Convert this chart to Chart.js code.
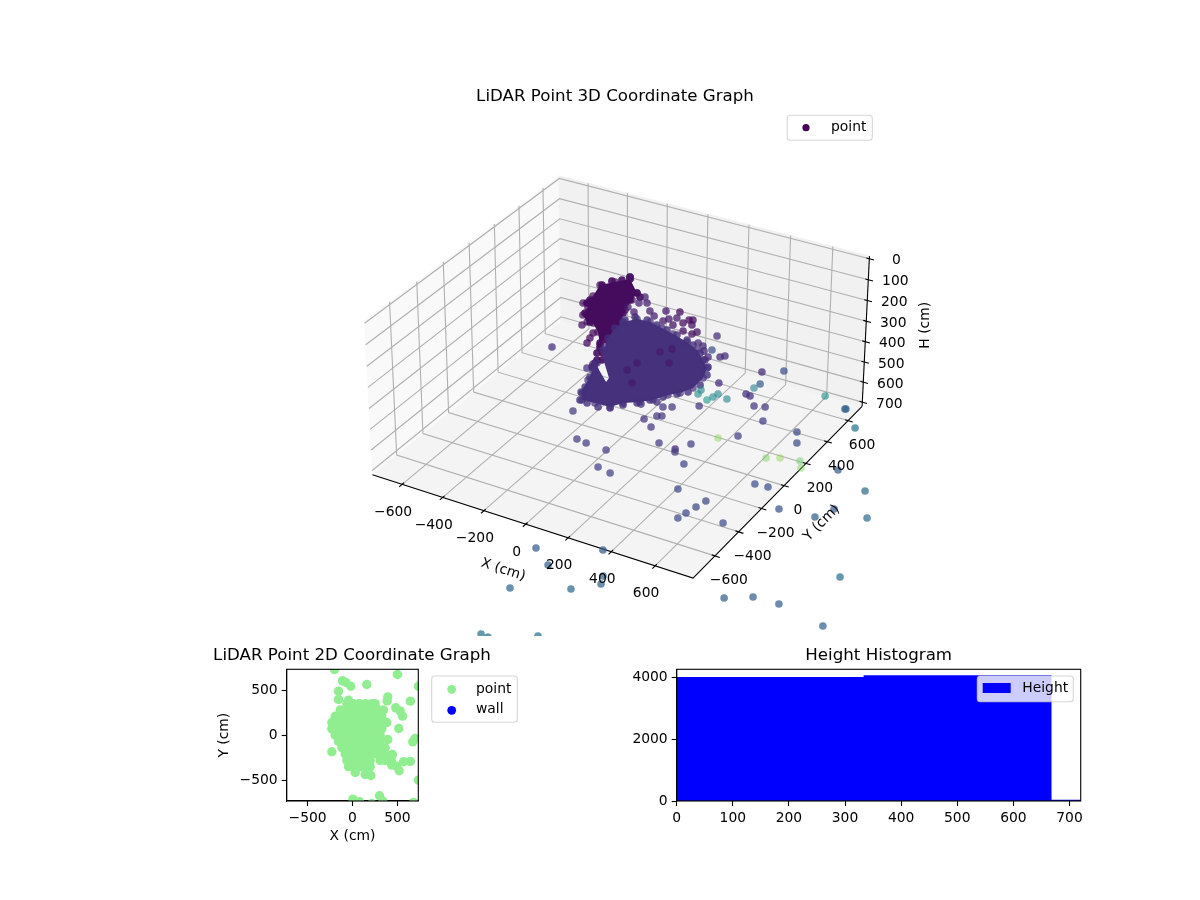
<!DOCTYPE html>
<html><head><meta charset="utf-8">
<script src="https://cdn.jsdelivr.net/npm/chart.js@4"></script>
<style>html,body{margin:0;background:#fff;overflow:hidden}canvas{position:absolute;left:0;top:0}</style></head>
<body>
<canvas id="c3" width="1200" height="900"></canvas>
<canvas id="c2" width="1200" height="900"></canvas>
<canvas id="ch" width="1200" height="900"></canvas>
<script>
const xTicks=[-600,-400,-200,0,200,400,600], yTicks=[-600,-400,-200,0,200,400,600], hTicks=[0,100,200,300,400,500,600,700];
const xLim=[-748,771], yLim=[-780,738], hLim=[721,-13];
const colorMaxH=3337;
// dense main cluster outline (cm)
const mainH=467;
const mainX=[-270,-231,-168,-97,-29,57,128,192,239,265,268,241,205,171,132,75,45,-26,-85,-122,-147,-172,-187,-162,-73,-79,-165,-221,-227,-255,-274];
const mainY=[475,529,534,513,490,459,420,357,306,223,129,66,26,-41,-82,-124,-179,-182,-188,-134,-34,49,109,74,-10,25,131,218,245,319,411];
const mainRimX=[-92,-54,2,49,83,126,160,195,234,266,282,267,239,199,152,92,49,-10,-69,-129,-188,-247,-272,-114,-128,-153,-164];
const mainRimY=[-193,-199,-204,-186,-138,-95,-47,2,52,90,166,254,315,361,403,449,475,491,508,525,543,540,495,-139,-90,-8,53];
// dense upper cluster outline (cm)
const upperH=100;
const upperX=[-102,-15,-3,15,61,87,63,74,12,-44,-69,-114,-131,-166,-161,-184,-143];
const upperY=[242,149,86,-3,-124,-234,-266,-308,-219,-164,-169,-127,-58,-38,35,132,187];
const upperRimX=[-177,-159,-127,-111,-15,13,-10,-154,-152,-115,-59,-105,21,62,78,77,65,86,96,125,130,136,142,117];
const upperRimY=[137,188,217,257,149,125,82,-2,-30,-108,-163,-43,-30,-142,-210,-258,-293,-329,-370,-419,-443,-477,-409,-358];
// individual points (cm)
const ptX=[-427,-152,-205,-200,-149,-115,-145,-124,-123,-203,
-69,-32,34,220,79,104,66,285,299,233,
162,273,266,310,320,159,189,214,142,-90,
253,297,311,356,-523,-597,-689,-519,-472,-372,
319,241,208,240,222,188,228,184,215,147,
140,210,261,142,191,493,279,86,-307,474,
496,518,562,-115,489,485,426,547,-1150,513,
374,603,644,-749,-790,-505,-573,756,619,677,
769,287,492,347,-39,10,93,115,181,386,
405,563,550,536,489,666,229,746,804,879,
872,941,755,853,967,1159,-56,13,213,235,
-113,109,-158,-122,53,-1,9,20,-166];
const ptY=[135,-151,55,97,454,412,395,315,261,419,
356,327,312,95,257,281,229,55,63,99,
142,103,40,36,61,371,359,323,575,968,
287,312,330,194,1678,1786,2054,1797,1761,1665,
91,-2,-21,-87,-97,-145,-157,-7,40,-133,
-203,-284,-68,-90,-42,320,962,1112,1825,216,
210,206,222,2237,1184,1182,1431,235,3059,76,
-78,450,369,2862,3117,2782,2938,553,34,41,
818,-194,-429,-166,-308,-316,-295,-398,-413,-159,
-243,-293,-353,-412,-394,-335,-555,11,240,266,
625,223,-482,-417,-409,-393,-616,-635,-528,-582,
-733,-613,-892,-896,-787,-236,-278,-320,-48];
const ptH=[470,560,470,470,300,300,300,300,250,200,
300,300,250,100,250,250,250,100,100,150,
200,150,150,150,150,400,400,400,470,800,
400,400,400,450,1500,1600,1800,1600,1550,1500,
520,500,500,500,500,500,520,250,250,250,
250,250,250,470,470,420,800,1000,1500,480,
480,520,520,1700,1050,1050,1300,600,2700,600,
600,750,750,2600,2750,2500,2650,950,780,780,
1200,560,400,600,580,580,600,620,620,650,
720,700,700,700,750,750,900,850,1000,950,
1200,1250,1000,1000,1000,1050,950,1000,1050,1050,
1100,1100,1250,1250,1250,100,100,100,200];
const planX=[-200,500,-111,-74,-19,159,733,-156,-156,-44,393,385,644,481,530,556,515,696,670,393,-230,444,430,567,644,493,519,437,733,30,141,204,4,78,300,337,678,215,
-63,7,77,147,217,252,
-137,-70,0,70,140,210,289,344,
-193,-125,-55,15,85,155,225,295,326,
-230,-160,-90,-20,50,120,190,260,330,381,
-230,-160,-90,-20,50,120,190,260,326,
-193,-125,-55,15,85,155,225,307,
-156,-90,-20,50,120,190,260,307,
-118,-50,20,90,160,230,300,363,
-81,-10,60,130,200,270,363,
-63,5,75,145,196,307,363,
-44,20,90,160,196];
const planY=[730,674,604,585,544,563,544,489,396,389,426,381,378,304,270,211,74,-37,-74,-48,-185,-215,-278,-296,-293,-344,-396,-333,-500,-415,-437,-448,-711,-740,-674,-733,-748,-760,
350,350,350,350,350,350,
280,280,280,280,280,280,280,280,
210,210,210,210,210,210,210,210,210,
140,140,140,140,140,140,140,140,140,140,
70,70,70,70,70,70,70,70,70,
0,0,0,0,0,0,0,0,
-70,-70,-70,-70,-70,-70,-70,-70,
-140,-140,-140,-140,-140,-140,-140,-140,
-210,-210,-210,-210,-210,-210,-210,
-280,-280,-280,-280,-280,-280,-280,
-350,-350,-350,-350,-350];
const wallX=[], wallY=[];
const histCenters=[166.85,500.55,834.25], histCounts=[4000,4054,32], histBinWidth=333.7;
const histXT=[0,100,200,300,400,500,600,700], histYT=[0,2000,4000], planTicks=[-500,0,500];

const FONT='"DejaVu Sans"';
Chart.defaults.font.family=FONT; Chart.defaults.font.size=13.89; Chart.defaults.color='#000';
Chart.defaults.animation=false;

const VIR=[[68,1,84],[72,40,120],[62,74,137],[49,104,142],[38,130,142],[31,158,137],[53,183,121],[109,205,89],[180,222,44],[253,231,37]];
function viridis(t,a){t=Math.max(0,Math.min(1,t))*(VIR.length-1);const i=Math.min(VIR.length-2,Math.floor(t)),f=t-i;
  const c=VIR[i].map((v,k)=>Math.round(v+(VIR[i+1][k]-v)*f));return `rgba(${c[0]},${c[1]},${c[2]},${a})`;}
const ptAlpha=h=>h<500?0.75:h<1400?0.72:h<2000?0.62:0.45;

// mplot3d style perspective projection
const D2R=Math.PI/180, elev=30*D2R, azim=-60*D2R, DIST=10;
const W=[Math.cos(elev)*Math.cos(azim),Math.cos(elev)*Math.sin(azim),Math.sin(elev)];
const Un=Math.hypot(W[0],W[1]), U=[-W[1]/Un,W[0]/Un,0];
const V=[W[1]*U[2]-W[2]*U[1],W[2]*U[0]-W[0]*U[2],W[0]*U[1]-W[1]*U[0]];
const rx=xLim[1]-xLim[0], rh=Math.abs(hLim[1]-hLim[0]);
const K=1.8294640721620434*25/24/Math.hypot(rx,rx,rh);
function project(x,y,h){
  const dx=(x-(xLim[0]+xLim[1])/2)*K, dy=(y-(yLim[0]+yLim[1])/2)*K, dz=-(h-(hLim[0]+hLim[1])/2)*K;
  const d=DIST-(W[0]*dx+W[1]*dy+W[2]*dz);
  return {x:(U[0]*dx+U[1]*dy+U[2]*dz)/d, y:(V[0]*dx+V[1]*dy+V[2]*dz)/d};
}
const [x0,x1]=xLim,[y0,y1]=yLim,[hB,hT]=hLim;
const ds=[];
function poly(pts,opt){ds.push(Object.assign({data:pts.map(p=>project(...p)),showLine:true,pointRadius:0,borderWidth:1.1,borderColor:'#b0b0b0',tension:0},opt));}
const pane=(pts,c)=>poly(pts.concat([pts[0]]),{fill:'shape',backgroundColor:c,borderColor:c,borderWidth:1});
pane([[x0,y0,hB],[x1,y0,hB],[x1,y1,hB],[x0,y1,hB]],'#f4f4f4');
pane([[x0,y0,hB],[x0,y1,hB],[x0,y1,hT],[x0,y0,hT]],'#f9f9f9');
pane([[x0,y1,hB],[x1,y1,hB],[x1,y1,hT],[x0,y1,hT]],'#f1f1f1');
xTicks.forEach(t=>poly([[t,y0,hB],[t,y1,hB],[t,y1,hT]]));
yTicks.forEach(t=>poly([[x0,t,hT],[x0,t,hB],[x1,t,hB]]));
hTicks.forEach(t=>poly([[x0,y0,t],[x0,y1,t],[x1,y1,t]]));
const black={borderColor:'#000',borderWidth:1.1};
poly([[x0,y0,hB],[x1,y0,hB],[x1,y1,hB]],black);
poly([[x1,y1,hB],[x1,y1,hT]],black);
xTicks.forEach(t=>poly([[t,y0+14,hB],[t,y0-22,hB]],black));
yTicks.forEach(t=>poly([[x1-14,t,hB],[x1+22,t,hB]],black));
hTicks.forEach(t=>poly([[x1-14,y1,t],[x1+22,y1,t]],black));
function cluster(xs,ys,h,skip){
  const pts=xs.map((x,i)=>[x,ys[i],h]); pts.push(pts[0]);
  poly(pts,{fill:'shape',backgroundColor:viridis(h/colorMaxH,1),borderWidth:0,borderColor:'rgba(0,0,0,0)',
    pointRadius:pts.map((p,i)=>skip&&i>=skip[0]&&i<=skip[1]?0:3.8),pointBorderWidth:0,pointBackgroundColor:viridis(h/colorMaxH,0.7)});
}
function rim(xs,ys,h,a){ds.push({data:xs.map((x,i)=>project(x,ys[i],h)),pointRadius:3.8,pointBorderWidth:0,pointBackgroundColor:viridis(h/colorMaxH,a)});}
cluster(upperX,upperY,upperH);
rim(upperRimX,upperRimY,upperH,0.9);
cluster(mainX,mainY,mainH,[23,26]);
rim(mainRimX,mainRimY,mainH,0.8);
ds.push({label:'point',data:ptX.map((x,i)=>project(x,ptY[i],ptH[i])),pointRadius:3.8,pointBorderWidth:0,
  pointBackgroundColor:ptH.map(h=>viridis(h/colorMaxH,ptAlpha(h)))});
ds.forEach((d,i)=>d.order=ds.length-i);

function legend(ctx,box,alpha,items){
  ctx.save();ctx.beginPath();ctx.roundRect(box[0],box[1],box[2],box[3],3);
  ctx.fillStyle=`rgba(255,255,255,${alpha})`;ctx.fill();ctx.strokeStyle='rgba(204,204,204,0.8)';ctx.lineWidth=1.1;ctx.stroke();
  ctx.font=`13.89px ${FONT}`;ctx.textBaseline='middle';ctx.textAlign='left';
  items.forEach(it=>{ctx.fillStyle=it.color;
    if(it.rect){ctx.fillRect(it.mx,it.my-5,28,10);}else{ctx.beginPath();ctx.arc(it.mx,it.my,it.r,0,7);ctx.fill();}
    ctx.fillStyle='#000';ctx.fillText(it.label,it.tx,it.ty);});
  ctx.restore();
}
function txt(ctx,s,x,y,rot,size){ctx.save();ctx.translate(x,y);ctx.rotate((rot||0)*D2R);ctx.textAlign='center';ctx.textBaseline='middle';ctx.fillStyle='#000';ctx.font=`${size||13.89}px ${FONT}`;ctx.fillText(s,0,0);ctx.restore();}
const minusFmt=v=>String(v).replace('-','\u2212');

new Chart('c3',{type:'scatter',data:{datasets:ds},options:{responsive:false,devicePixelRatio:1,
 layout:{padding:{left:351,right:321,top:0,bottom:264}},
 scales:{x:{display:false,min:-0.095,max:0.09},y:{display:false,min:-0.095,max:0.09}},
 plugins:{legend:{display:false},tooltip:{enabled:false},filler:{drawTime:'beforeDatasetDraw'},
  title:{display:true,text:'LiDAR Point 3D Coordinate Graph',fullSize:false,font:{size:16.67,weight:'normal'},color:'#000',padding:{top:87,bottom:1}}}},
 plugins:[{id:'axes3d',afterDraw(c){const ctx=c.ctx,sx=c.scales.x,sy=c.scales.y;
  const P=(x,y,h)=>{const p=project(x,y,h);return [sx.getPixelForValue(p.x),sy.getPixelForValue(p.y)];};
  xTicks.forEach(t=>{const p=P(t,y0,hB);txt(ctx,minusFmt(t),p[0]-9,p[1]+28);});
  yTicks.forEach(t=>{const p=P(x1,t,hB);txt(ctx,minusFmt(t),p[0]+14,p[1]+25);});
  hTicks.forEach(t=>{const p=P(x1,y1,t);txt(ctx,String(t),p[0]+27,p[1]+2);});
  let p=P((x0+x1)/2,y0,hB);txt(ctx,'X (cm)',p[0]-25,p[1]+45,18);
  p=P(x1,(y0+y1)/2,hB);txt(ctx,'Y (cm)',p[0]+40,p[1]+35,-45.5);
  p=P(x1,y1,(hB+hT)/2);txt(ctx,'H (cm)',p[0]+60,p[1]-7,-90);
  legend(ctx,[787.3,115.3,85,25],0.8,[{color:'#440154',mx:806,my:127.7,r:3.6,label:'point',tx:831,ty:127.3}]);
 }}]});

const black2={border:{display:true,color:'#000',width:1.1},grid:{drawOnChartArea:false,drawTicks:true,tickLength:5,tickColor:'#000',tickWidth:1.1}};
const frame={id:'frame',afterDraw(c){const a=c.chartArea,x=c.ctx;x.save();x.strokeStyle='#000';x.lineWidth=1.1;x.strokeRect(a.left,a.top,a.right-a.left,a.bottom-a.top);x.restore();}};
new Chart('c2',{type:'scatter',data:{datasets:[
 {label:'point',data:planX.map((x,i)=>({x,y:planY[i]})),backgroundColor:'#90ee90',pointRadius:4.7,borderWidth:0},
 {label:'wall',data:wallX.map((x,i)=>({x,y:wallY[i]})),backgroundColor:'#0000ff',pointRadius:4.7,borderWidth:0}]},
 options:{responsive:false,devicePixelRatio:1,layout:{padding:{left:215.7,right:781.7,top:669.3,bottom:55}},
 scales:{x:{min:-732,max:732,...black2,afterBuildTicks:s=>{s.ticks=planTicks.map(value=>({value}))},afterFit:s=>{s.height=44},
   ticks:{padding:4,maxRotation:0,callback:minusFmt},title:{display:true,text:'X (cm)',padding:0,color:'#000'}},
  y:{min:-732,max:732,...black2,afterBuildTicks:s=>{s.ticks=planTicks.map(value=>({value}))},afterFit:s=>{s.width=71},
   ticks:{padding:4,callback:minusFmt},title:{display:true,text:'Y (cm)',padding:0,color:'#000'}}},
 plugins:{legend:{display:false},tooltip:{enabled:false}}},
 plugins:[frame,{id:'lg',afterDraw(c){
  txt(c.ctx,'LiDAR Point 2D Coordinate Graph',(c.chartArea.left+c.chartArea.right)/2-0.5,656,0,16.67);
  legend(c.ctx,[431.7,676,85.6,46.3],0.8,[
  {color:'#90ee90',mx:451.7,my:689.3,r:4.4,label:'point',tx:476,ty:689},
  {color:'#0000ff',mx:451.7,my:710.3,r:4.4,label:'wall',tx:476,ty:709.5}]);}}]});

new Chart('ch',{type:'bar',data:{datasets:[{label:'Height',data:histCenters.map((x,i)=>({x,y:histCounts[i]})),backgroundColor:'#0000ff',
   barThickness:histBinWidth*404/720}]},
 options:{responsive:false,devicePixelRatio:1,layout:{padding:{left:626.7,right:119.3,top:0,bottom:69}},
 scales:{x:{type:'linear',offset:false,min:0,max:720,...black2,grid:{...black2.grid,offset:false},afterBuildTicks:s=>{s.ticks=histXT.map(value=>({value}))},afterFit:s=>{s.height=30},ticks:{padding:4,maxRotation:0,callback:v=>String(v)}},
  y:{min:0,max:4257,...black2,afterBuildTicks:s=>{s.ticks=histYT.map(value=>({value}))},afterFit:s=>{s.width=50},ticks:{padding:4,callback:v=>String(v)}}},
 plugins:{legend:{display:false},tooltip:{enabled:false},
  title:{display:true,text:'Height Histogram',fullSize:false,font:{size:16.67,weight:'normal'},color:'#000',padding:{top:645.8,bottom:3.5}}}},
 plugins:[frame,{id:'lg',afterDraw(c){legend(c.ctx,[977.3,676,96,25.7],0.8,[{rect:true,color:'#0000ff',mx:982.7,my:688,label:'Height',tx:1022.3,ty:688.5}]);}}]});
</script></body></html>
